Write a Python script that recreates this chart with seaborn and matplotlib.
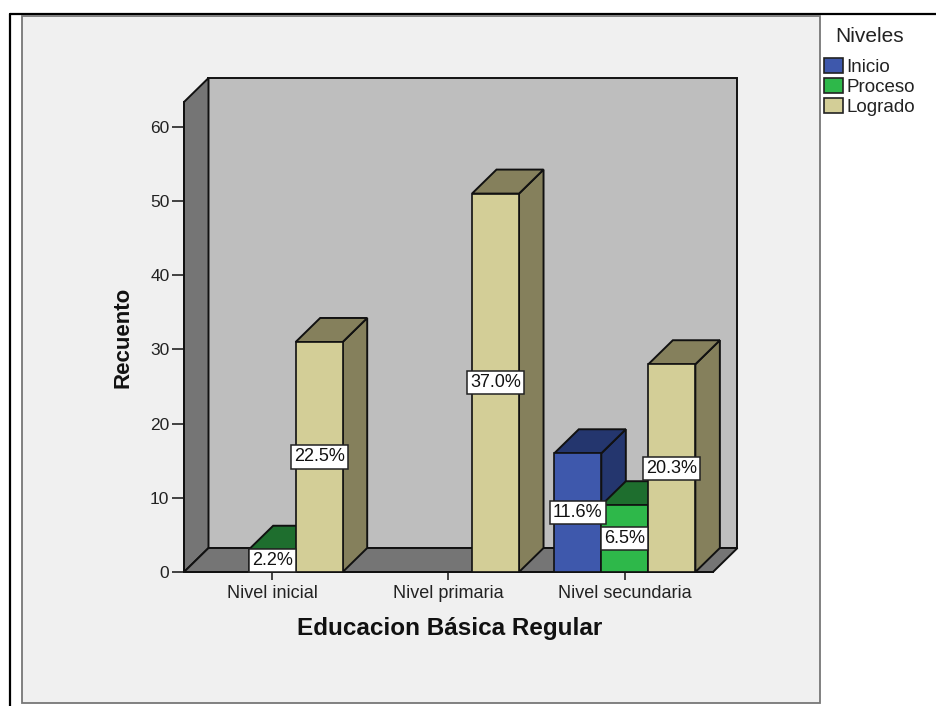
import matplotlib
matplotlib.use("Agg")
import matplotlib.pyplot as plt
from matplotlib.patches import Rectangle, Polygon
from matplotlib.lines import Line2D
import pandas as pd
import seaborn as sns

categories = ["Nivel inicial", "Nivel primaria", "Nivel secundaria"]
niveles = ["Inicio", "Proceso", "Logrado"]
inicio = [0, 0, 16]
proceso = [3, 0, 9]
logrado = [31, 51, 28]
pct_inicio = ["", "", "11.6%"]
pct_proceso = ["2.2%", "", "6.5%"]
pct_logrado = ["22.5%", "37.0%", "20.3%"]
y_ticks = [0, 10, 20, 30, 40, 50, 60]

FRONT = {"Inicio": "#3E58AC", "Proceso": "#2EB84A", "Logrado": "#D3CE97"}
DARK = {"Inicio": "#24366E", "Proceso": "#1E6E2E", "Logrado": "#85805C"}
W, H = 937, 706

sns.set_theme(style="white")
plt.rcParams["font.family"] = ["Liberation Sans", "DejaVu Sans"]

df = pd.DataFrame({
    "cat": categories * 3,
    "nivel": [n for n in niveles for _ in categories],
    "n": inicio + proceso + logrado,
})

fig = plt.figure(figsize=(W / 100, H / 100), dpi=100, facecolor="white")


def fig_box(x0, y0, x1, y1):
    return [x0 / W, 1 - y1 / H, (x1 - x0) / W, (y1 - y0) / H]


# picture frame and panel
fig.add_artist(Line2D([10 / W, 10 / W], [0, 1 - 14 / H], color="black", lw=1.6, zorder=-2))
fig.add_artist(Line2D([10 / W, 1], [1 - 14 / H, 1 - 14 / H], color="black", lw=1.6, zorder=-2))
fig.add_artist(Rectangle((22 / W, 1 - 703 / H), 798 / W, 687 / H, transform=fig.transFigure,
                         facecolor="#F0F0F0", edgecolor="#777777", lw=1.3, zorder=-1))

ax = fig.add_axes(fig_box(184, 102, 713, 572))
ax.patch.set_visible(False)
sns.barplot(data=df, x="cat", y="n", hue="nivel", order=categories, hue_order=niveles,
            palette=FRONT, width=0.8, gap=0, saturation=1, edgecolor="#111111", linewidth=1.2,
            legend=False, ax=ax)
ax.set_xlim(-0.5, 2.5)
ax.set_ylim(0, 470 / 7.42)
ax.set_yticks(y_ticks)

# depth of the pseudo 3D box, converted from pixels to data units
px_x = 529 / (ax.get_xlim()[1] - ax.get_xlim()[0])
px_y = 470 / (ax.get_ylim()[1] - ax.get_ylim()[0])
dx, dy = 24.5 / px_x, 24 / px_y
x0, x1 = ax.get_xlim()
y0, y1 = ax.get_ylim()
kw = dict(edgecolor="#111111", lw=1.4, clip_on=False)
ax.add_patch(Polygon([(x0 + dx, y0 + dy), (x1 + dx, y0 + dy), (x1 + dx, y1 + dy), (x0 + dx, y1 + dy)],
                     facecolor="#BEBEBE", zorder=0.1, **kw))
ax.add_patch(Polygon([(x0, y0), (x0 + dx, y0 + dy), (x0 + dx, y1 + dy), (x0, y1)],
                     facecolor="#757575", zorder=0.2, **kw))
ax.add_patch(Polygon([(x0, y0), (x1, y0), (x1 + dx, y0 + dy), (x0 + dx, y0 + dy)],
                     facecolor="#757575", zorder=0.2, **kw))

# extrude each seaborn bar, left to right
bars = []
for name, cont in zip(niveles, ax.containers):
    for rect in cont:
        bars.append((name, rect))
bars.sort(key=lambda b: b[1].get_x())
for i, (name, rect) in enumerate(bars):
    h = rect.get_height()
    if h == 0:
        rect.set_visible(False)
        continue
    z = 1 + i
    x, w = rect.get_x(), rect.get_width()
    rect.set_zorder(z + 0.5)
    ax.add_patch(Polygon([(x + w, 0), (x + w + dx, dy), (x + w + dx, h + dy), (x + w, h)],
                         facecolor=DARK[name], zorder=z, **kw))
    ax.add_patch(Polygon([(x, h), (x + w, h), (x + w + dx, h + dy), (x + dx, h + dy)],
                         facecolor=DARK[name], zorder=z, **kw))

# percentage labels
for cont, labels in zip(ax.containers, [pct_inicio, pct_proceso, pct_logrado]):
    texts = ax.bar_label(cont, labels=labels, label_type="center", fontsize=13, color="#111111",
                         zorder=50, clip_on=False)
    for t, s in zip(texts, labels):
        t.set_zorder(50)
        if s:
            t.set_bbox(dict(boxstyle="square,pad=0.17", facecolor="white", edgecolor="#222222", lw=1.1))

# axes
sns.despine(ax=ax, top=True, right=True)
for s in ["left", "bottom"]:
    ax.spines[s].set_color("#111111")
    ax.spines[s].set_linewidth(1.4)
    ax.spines[s].set_zorder(0.5)
ax.tick_params(axis="y", direction="out", length=8.5, width=1.1, color="#111111", labelsize=12.5,
               labelcolor="#222222", left=True, pad=2)
ax.tick_params(axis="x", direction="out", length=5.5, width=1.1, color="#111111", labelsize=13,
               labelcolor="#222222", bottom=True, pad=3.5)
ax.set_xlabel("Educacion Básica Regular", fontsize=17.5, fontweight="bold", color="#111111")
ax.set_ylabel("Recuento", fontsize=16, fontweight="bold", color="#111111")
ax.xaxis.set_label_coords((449.5 - 184) / 529, -(628 - 572) / 470, transform=ax.transAxes)
ax.yaxis.set_label_coords((123 - 184) / 529, 0.5, transform=ax.transAxes)
ax.xaxis.get_label().set_va("center")
ax.yaxis.get_label().set_va("center")

# legend
handles = [Rectangle((0, 0), 1, 1, facecolor=FRONT[n], edgecolor="#222222", lw=1.2) for n in niveles]
leg = fig.legend(handles, niveles, title="Niveles", loc="upper left",
                 bbox_to_anchor=(822 / W, 1 - 25 / H), frameon=False, fontsize=13.5,
                 title_fontsize=15, handlelength=1.0, handleheight=0.85, handletextpad=0.2,
                 labelspacing=0.13, borderaxespad=0, borderpad=0.1, labelcolor="#222222")
leg.get_title().set_color("#222222")
leg._legend_box.sep = 8.5

fig.savefig("out.png", dpi=100)
